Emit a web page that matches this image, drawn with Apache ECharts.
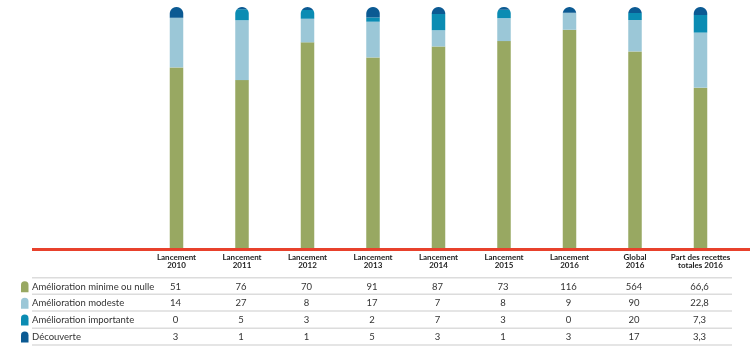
<!DOCTYPE html>
<html><head><meta charset="utf-8">
<script src="https://cdn.jsdelivr.net/npm/echarts@6/dist/echarts.min.js"></script>
<style>html,body{margin:0;padding:0;background:#fff}#c{width:750px;height:349px}</style>
</head><body><div id="c"></div>
<script>
const categories = ['Lancement\n2010','Lancement\n2011','Lancement\n2012','Lancement\n2013','Lancement\n2014','Lancement\n2015','Lancement\n2016','Global\n2016','Part des recettes\ntotales 2016'];
const seriesNames = ['Amélioration minime ou nulle','Amélioration modeste','Amélioration importante','Découverte'];
const minimeNulle = [51, 76, 70, 91, 87, 73, 116, 564, 66.6];
const modeste     = [14, 27, 8, 17, 7, 8, 9, 90, 22.8];
const importante  = [0, 5, 3, 2, 7, 3, 0, 20, 7.3];
const decouverte  = [3, 1, 1, 5, 3, 1, 3, 17, 3.3];
const colors = ['#98a862','#9bc7d7','#0b8cb3','#0b5a93'];

const allSeries = [minimeNulle, modeste, importante, decouverte];
const fmt = v => String(v).replace('.', ',');

// percentage stack built from the raw values
const stacks = allSeries.map(() => []);
categories.forEach((c, i) => {
  const tot = allSeries.reduce((s, a) => s + a[i], 0);
  let acc = 0;
  allSeries.forEach((a, k) => {
    const lo = acc / tot * 100; acc += a[i];
    const hi = acc / tot * 100;
    stacks[k].push([i, lo, hi]);
  });
});

const BAR_W = 13.5;
function renderSeg(params, api) {
  const i = api.value(0), lo = api.value(1), hi = api.value(2);
  if (hi - lo <= 0) return null;
  const pB = api.coord([i, lo]), pT = api.coord([i, hi]), pCap = api.coord([i, 100]);
  const r = BAR_W / 2, cx = pB[0], yBot = pB[1], yTop = pT[1], yc = pCap[1] + r;
  const ys = [yBot];
  const capEnd = Math.min(yBot, yc);
  if (capEnd > yTop) {
    for (let y = capEnd; y > yTop; y -= 0.5) ys.push(y);
  }
  ys.push(yTop);
  const hw = y => y >= yc ? r : Math.sqrt(Math.max(0, r * r - (yc - y) * (yc - y)));
  const pts = [];
  ys.forEach(y => pts.push([cx + hw(y), y]));
  for (let j = ys.length - 1; j >= 0; j--) pts.push([cx - hw(ys[j]), ys[j]]);
  return { type: 'polygon', shape: { points: pts }, style: { fill: api.visual('color') } };
}

const chart = echarts.init(document.getElementById('c'), null, { renderer: 'canvas' });
chart.setOption({
  animation: false,
  grid: { left: 143.75, right: 16.75, top: 7, bottom: 100.5 },
  xAxis: {
    type: 'category', data: categories,
    axisLine: { show: false }, axisTick: { show: false },
    axisLabel: { interval: 0, margin: 5, color: '#222', fontFamily: 'Lato', fontWeight: 'bold', fontSize: 8, lineHeight: 8 }
  },
  yAxis: { type: 'value', min: 0, max: 100, show: false, splitLine: { show: false } },
  series: seriesNames.map((n, k) => ({
    name: n, type: 'custom', data: stacks[k], renderItem: renderSeg,
    encode: { x: 0, y: [1, 2] }, itemStyle: { color: colors[k] }, clip: false
  }))
});

const rowY = [286.7, 303.3, 320, 337];
const sepY = [277.7, 294.3, 311, 328.3, 345];
const g = [];
sepY.forEach(y => g.push({ type: 'line', shape: { x1: 32, y1: y, x2: 732, y2: y }, style: { stroke: '#dcdcdc', lineWidth: 1.5 }, silent: true }));
g.push({ type: 'line', shape: { x1: 32, y1: 249.5, x2: 750, y2: 249.5 }, style: { stroke: '#e8412c', lineWidth: 3 }, silent: true, z: 10 });
seriesNames.forEach((n, k) => {
  g.push({ type: 'rect', shape: { x: 21, y: rowY[k] - 5.5, width: 7.5, height: 11, r: [3.75, 3.75, 0, 0] }, style: { fill: colors[k] } });
  g.push({ type: 'text', x: 32, y: rowY[k], style: { text: n, fill: '#333', font: '9.5px Lato', textVerticalAlign: 'middle', textAlign: 'left' } });
  allSeries[k].forEach((v, i) => {
    const px = chart.convertToPixel({ xAxisIndex: 0 }, i);
    g.push({ type: 'text', x: px - 1, y: rowY[k], style: { text: fmt(v), fill: '#333', font: '9.5px Lato', textVerticalAlign: 'middle', textAlign: 'center' } });
  });
});
chart.setOption({ graphic: g });
</script></body></html>
